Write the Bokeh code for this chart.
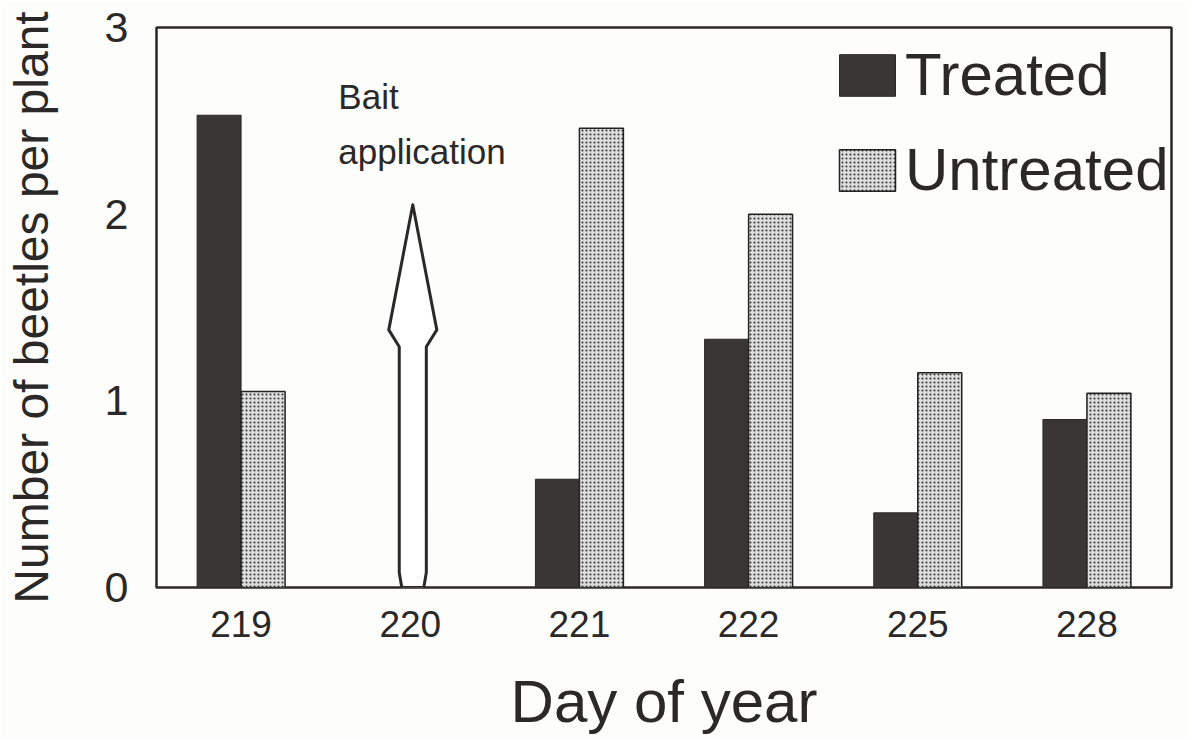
import numpy as np
from bokeh.plotting import figure
from bokeh.models import Range1d, FixedTicker, Legend, LegendItem, Label
from bokeh.embed import file_html
from bokeh.resources import INLINE

# ---- data ----
days = ["219", "220", "221", "222", "225", "228"]
treated = [2.53, np.nan, 0.58, 1.33, 0.40, 0.90]
untreated = [1.05, np.nan, 2.46, 2.00, 1.15, 1.04]
y_ticks = [0, 1, 2, 3]
bait_day = "220"
bait_arrow_top = 2.05
bait_head_base = 1.35
bait_text = ["Bait", "application"]

FONT = "Liberation Sans"
INK = "#2b2828"

n = len(days)
centers = np.arange(n) + 0.5
t_arr = np.array(treated, dtype=float)
u_arr = np.array(untreated, dtype=float)
t_mask = ~np.isnan(t_arr)
u_mask = ~np.isnan(u_arr)

BAR_W = 0.26
OFF = 0.13

p = figure(width=1190, height=738,
           x_range=Range1d(0, n), y_range=Range1d(0, 3),
           output_backend="svg", toolbar_location=None,
           min_border_left=156, min_border_right=19,
           min_border_top=27, min_border_bottom=151,
           background_fill_color="#fdfdfc", border_fill_color="#fdfdfc")

p.xgrid.visible = False
p.ygrid.visible = False
p.outline_line_color = INK
p.outline_line_width = 2.5
p.outline_line_alpha = 1.0

r_t = p.vbar(x=centers[t_mask] - OFF, top=t_arr[t_mask], bottom=0, width=BAR_W,
             fill_color="#3b3636", line_color="#2b2828", line_width=1)
r_u = p.vbar(x=centers[u_mask] + OFF, top=u_arr[u_mask], bottom=0, width=BAR_W,
             fill_color="#dcdcdc", line_color="#222222", line_width=1.5,
             hatch_pattern="dot", hatch_color="#333333", hatch_scale=4, hatch_weight=2)

# bait arrow (hollow), built from the arrow parameters
c = centers[days.index(bait_day)] + 0.015
sw = 0.08   # shaft half-width
hw = 0.142  # head half-width
b = bait_head_base
xs = [c - 0.065, c - sw, c - sw, c - hw, c, c + hw, c + sw, c + sw, c + 0.065]
ys = [0, 0.08, b - 0.06, b + 0.03, bait_arrow_top, b + 0.03, b - 0.06, 0.08, 0]
p.patch(xs, ys, fill_color="white", line_color=INK, line_width=3, line_join="round")

p.add_layout(Label(x=c - 0.44, y=2.63, text=bait_text[0], text_font=FONT,
                   text_font_size="35px", text_color=INK, text_baseline="alphabetic"))
p.add_layout(Label(x=c - 0.44, y=2.335, text=bait_text[1], text_font=FONT,
                   text_font_size="35px", text_color=INK, text_baseline="alphabetic"))

# axes
p.xaxis.ticker = FixedTicker(ticks=list(centers))
p.xaxis.major_label_overrides = {float(cc): d for cc, d in zip(centers, days)}
p.yaxis.ticker = FixedTicker(ticks=y_ticks)
for ax in (p.xaxis[0], p.yaxis[0]):
    ax.axis_line_color = None
    ax.major_tick_line_color = None
    ax.minor_tick_line_color = None
    ax.major_label_text_font = FONT
    ax.major_label_text_color = INK
    ax.axis_label_text_font = FONT
    ax.axis_label_text_font_style = "normal"
    ax.axis_label_text_color = INK

p.xaxis.major_label_text_font_size = "37px"
p.xaxis.major_label_standoff = 17
p.xaxis.axis_label = "Day of year"
p.xaxis.axis_label_text_font_size = "60px"
p.xaxis.axis_label_standoff = 28

p.yaxis.major_label_text_font_size = "43px"
p.yaxis.major_label_standoff = 22
p.yaxis.axis_label = "Number of beetles per plant"
p.yaxis.axis_label_text_font_size = "48px"
p.yaxis.axis_label_standoff = 44

legend = Legend(items=[LegendItem(label="Treated", renderers=[r_t]),
                       LegendItem(label="Untreated", renderers=[r_u])],
                location=(676, 383), orientation="vertical",
                glyph_width=70, glyph_height=52, label_standoff=3,
                label_text_font=FONT, label_text_font_size="60px",
                label_text_color=INK, spacing=26, padding=0, margin=0,
                background_fill_alpha=0, border_line_color=None)
p.add_layout(legend, "center")

open("out.html", "w").write(file_html(p, INLINE))
